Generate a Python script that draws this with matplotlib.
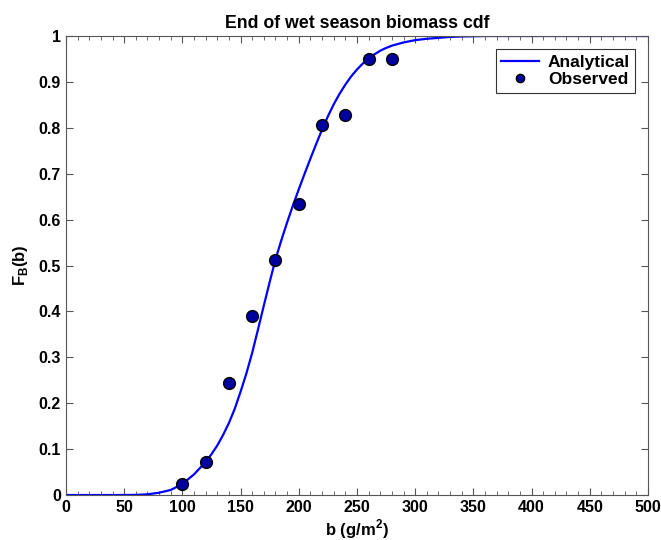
import matplotlib
matplotlib.use("Agg")
import matplotlib.pyplot as plt
from matplotlib.ticker import MultipleLocator

plt.rcParams['font.family'] = ['Liberation Sans', 'DejaVu Sans']
plt.rcParams['font.weight'] = 'bold'
plt.rcParams['mathtext.fontset'] = 'custom'
plt.rcParams['mathtext.rm'] = 'Liberation Sans:bold'
plt.rcParams['mathtext.bf'] = 'Liberation Sans:bold'

# analytical cdf
b_curve = [0, 50, 60, 70, 80, 90, 100, 110, 120, 125, 130, 135, 140, 145, 150,
           155, 160, 165, 170, 175, 180, 185, 190, 195, 200, 205, 210, 215,
           220, 225, 230, 235, 240, 245, 250, 255, 260, 265, 270, 275, 280,
           290, 300, 310, 320, 330, 340, 360, 500]
F_curve = [0, 0, 0.0003, 0.0015, 0.005, 0.011, 0.024, 0.045, 0.072, 0.089,
           0.108, 0.131, 0.157, 0.188, 0.225, 0.265, 0.31, 0.361, 0.413,
           0.464, 0.513, 0.555, 0.594, 0.631, 0.666, 0.700, 0.733, 0.765,
           0.796, 0.825, 0.851, 0.874, 0.894, 0.912, 0.927, 0.940, 0.951,
           0.960, 0.968, 0.974, 0.979, 0.986, 0.991, 0.994, 0.996, 0.998,
           0.999, 1.0, 1.0]

# observed points
b_obs = [100, 120, 140, 160, 180, 200, 220, 240, 260, 280]
F_obs = [0.025, 0.072, 0.243, 0.391, 0.512, 0.635, 0.806, 0.828, 0.950, 0.950]

y_ticks = [0, 0.1, 0.2, 0.3, 0.4, 0.5, 0.6, 0.7, 0.8, 0.9, 1]
y_labels = ['0', '0.1', '0.2', '0.3', '0.4', '0.5', '0.6', '0.7', '0.8', '0.9', '1']

fig = plt.figure(figsize=(6.61, 5.40), dpi=100)
ax = fig.add_axes([0.0998, 0.0833, 0.8805, 0.85])

ax.plot(b_curve, F_curve, color='#0000ff', lw=1.6, label='Analytical')
ax.plot(b_obs, F_obs, 'o', ms=8.5, mfc='#0000a0', mec='black', mew=1.0,
        label='Observed')

ax.set_xlim(0, 500)
ax.set_ylim(0, 1)
ax.xaxis.set_major_locator(MultipleLocator(50))
ax.xaxis.set_minor_locator(MultipleLocator(10))
ax.set_yticks(y_ticks)
ax.set_yticklabels(y_labels)
ax.tick_params(which='both', direction='in', top=True, right=True,
               labelsize=11.5, color='#555555')
ax.tick_params(which='major', length=5)
ax.tick_params(which='minor', length=3)
for s in ax.spines.values():
    s.set_color('#555555')

ax.set_title('End of wet season biomass cdf', fontsize=12.8, fontweight='bold', pad=6)
ax.set_xlabel(r'b (g/m$^2$)', fontsize=12, fontweight='bold', labelpad=2)
ax.set_ylabel(r'F$_\mathrm{B}$(b)', fontsize=12, fontweight='bold', labelpad=6)

leg = ax.legend(loc='upper right', bbox_to_anchor=(0.978, 0.971), fontsize=12.5,
                fancybox=False, framealpha=1, edgecolor='#333333',
                borderaxespad=0, borderpad=0.3, handlelength=2.2,
                handletextpad=0.5, labelspacing=0.15, markerscale=0.7)
leg.get_frame().set_linewidth(0.8)

fig.savefig('out.png', dpi=100)
